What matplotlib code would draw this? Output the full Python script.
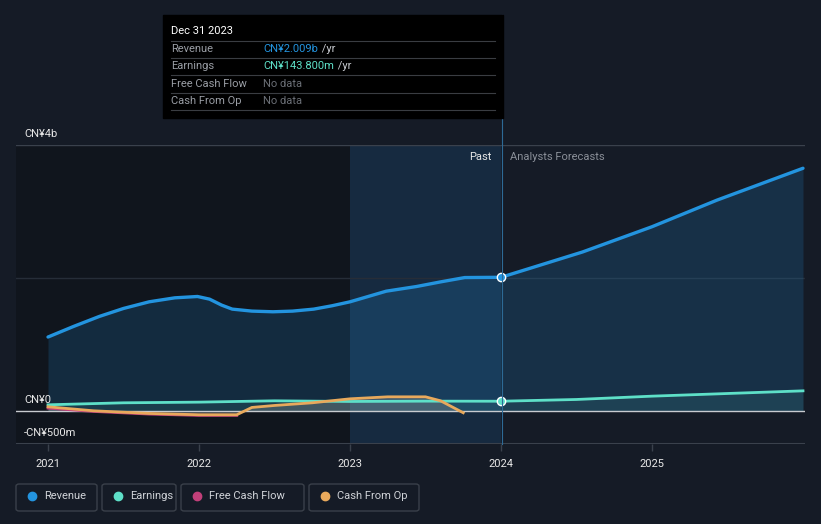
import matplotlib.pyplot as plt
from matplotlib.patches import Rectangle, FancyBboxPatch
from matplotlib.lines import Line2D

plt.rcParams['font.family'] = ['Roboto', 'DejaVu Sans']

# data (CN¥ billions, decimal years)
rev_x = [2021.0, 2021.17, 2021.34, 2021.5, 2021.67, 2021.84, 2021.99, 2022.07, 2022.15, 2022.22,
         2022.35, 2022.49, 2022.62, 2022.76, 2022.88, 2023.0, 2023.12, 2023.24, 2023.44, 2023.6,
         2023.76, 2024.0, 2024.2, 2024.54, 2025.0, 2025.43, 2026.0]
rev_y = [1.11, 1.27, 1.42, 1.54, 1.64, 1.70, 1.72, 1.68, 1.59, 1.53,
         1.50, 1.49, 1.50, 1.53, 1.58, 1.64, 1.72, 1.80, 1.87, 1.94,
         2.005, 2.009, 2.15, 2.39, 2.77, 3.17, 3.65]

earn_x = [2021.0, 2021.5, 2022.0, 2022.5, 2023.0, 2023.5, 2024.0, 2024.5, 2025.0, 2025.5, 2026.0]
earn_y = [0.09, 0.12, 0.13, 0.15, 0.14, 0.145, 0.1438, 0.17, 0.22, 0.26, 0.30]

cfo_x = [2021.0, 2021.3, 2021.67, 2022.0, 2022.25, 2022.35, 2022.5, 2022.75, 2023.0, 2023.25, 2023.5, 2023.6, 2023.75]
cfo_y = [0.06, 0.0, -0.04, -0.06, -0.06, 0.05, 0.08, 0.12, 0.18, 0.21, 0.21, 0.15, -0.03]

fcf_x = [2021.0, 2021.3, 2021.67, 2022.0, 2022.25]
fcf_y = [0.04, -0.01, -0.05, -0.07, -0.07]

year_ticks = [2021, 2022, 2023, 2024, 2025]
past_start, past_end = 2023.0, 2024.0

BG = '#151b26'
REV = '#2394df'
EARN = '#5ee0c8'
FCF = '#c2407a'
CFO = '#e8a95c'

W, H = 821, 524
fig = plt.figure(figsize=(8.21, 5.24), dpi=100, facecolor=BG)
ax = fig.add_axes([16 / W, (H - 444) / H, 789 / W, 299 / H])
ax.set_facecolor(BG)
x0, x1 = 2021 - 32 / 151, 2021 + 757 / 151
ax.set_xlim(x0, x1)
ax.set_ylim(-0.5, 4)

# shaded regions
ax.axvspan(x0, past_start, color='#0c1016', alpha=0.5, lw=0, zorder=0)
ax.axvspan(past_start, past_end, color='#17395a', alpha=0.5, lw=0, zorder=0)

# grid lines
ax.axhline(4, color='#3a414c', lw=1, zorder=1)
ax.axhline(2, color='#262d38', lw=1, zorder=1)
ax.axhline(-0.5, color='#3a414c', lw=1.5, zorder=1)

# series
ax.fill_between(rev_x, rev_y, 0, color=REV, alpha=0.18, lw=0, zorder=2)
ax.plot(rev_x, rev_y, color=REV, lw=2.4, zorder=5, solid_capstyle='round', solid_joinstyle='round')
ax.fill_between(earn_x, earn_y, 0, color=EARN, alpha=0.1, lw=0, zorder=2)
ax.fill_between(cfo_x, cfo_y, 0, color='#8a8a8a', alpha=0.35, lw=0, zorder=2)
ax.plot(fcf_x, fcf_y, color=FCF, lw=2, zorder=4)
ax.plot(earn_x, earn_y, color=EARN, lw=2, zorder=4)
ax.plot(cfo_x, cfo_y, color=CFO, lw=2, zorder=4, solid_joinstyle='round')
ax.axhline(0, color='#c8cbd0', lw=1, zorder=3)

ax.plot([past_end], [rev_y[rev_x.index(past_end)]], 'o', ms=6, color=REV, mec='white', mew=1, zorder=6)
ax.plot([past_end], [earn_y[earn_x.index(past_end)]], 'o', ms=6, color=EARN, mec='white', mew=1, zorder=6)

# vertical marker line up to tooltip
fig.add_artist(Line2D([502 / W, 502 / W], [(H - 444) / H, (H - 15) / H], color='#2d6a96', lw=0.8, zorder=3))

for s in ax.spines.values():
    s.set_visible(False)
ax.set_yticks([])
ax.set_xticks(year_ticks)
ax.set_xticklabels([str(y) for y in year_ticks])
ax.tick_params(axis='x', colors='#3a414c', labelcolor='#e8e8e8', length=5, width=1, labelsize=8, pad=6)

# y labels
for val, txt in [(4, 'CN¥4b'), (0, 'CN¥0'), (-0.5, '-CN¥500m')]:
    ax.annotate(txt, xy=(0, val), xycoords=('axes fraction', 'data'), xytext=(5.8, 4.5),
                textcoords='offset points', color='#e8e8e8', fontsize=8, va='bottom')

ax.text(past_end - 0.06, 3.82, 'Past', color='#e8e8e8', fontsize=8, ha='right', va='center')
ax.text(past_end + 0.06, 3.82, 'Analysts Forecasts', color='#8a8f98', fontsize=8, ha='left', va='center')

# tooltip
fig.add_artist(Rectangle((163 / W, (H - 118) / H), 340 / W, 103 / H, color='black', zorder=10))
fig.text(171 / W, (H - 31) / H, 'Dec 31 2023', color='white', fontsize=8, va='center', zorder=11)
rows = [('Revenue', 'CN¥2.009b', REV, ' /yr'), ('Earnings', 'CN¥143.800m', EARN, ' /yr'),
        ('Free Cash Flow', 'No data', '#6b6f76', ''), ('Cash From Op', 'No data', '#6b6f76', '')]
renderer = fig.canvas.get_renderer()
for i, (lab, val, col, suf) in enumerate(rows):
    yy = (H - (49 + i * 17.4)) / H
    fig.add_artist(Line2D([171 / W, 495 / W], [yy + 8.5 / H, yy + 8.5 / H], color='#3a3d42', lw=0.8, zorder=11))
    fig.text(171 / W, yy, lab, color='#9a9ea5', fontsize=8, va='center', zorder=11)
    t = fig.text(263 / W, yy, val, color=col, fontsize=8, va='center', zorder=11)
    if suf:
        bb = t.get_window_extent(renderer)
        fig.text((bb.x1 + 1) / W, yy, suf, color='#c8cbd0', fontsize=8, va='center', zorder=11)
fig.add_artist(Line2D([171 / W, 495 / W], [(H - 110) / H, (H - 110) / H], color='#3a3d42', lw=0.8, zorder=11))

# legend
legend = [('Revenue', REV, 16, 81), ('Earnings', EARN, 102, 74),
          ('Free Cash Flow', FCF, 181, 123), ('Cash From Op', CFO, 309, 110)]
for lab, col, lx, lw_ in legend:
    fig.add_artist(FancyBboxPatch((lx / W, (H - 511) / H), lw_ / W, 27 / H,
                                  boxstyle='round,pad=0,rounding_size=0.004',
                                  fc=BG, ec='#3a404a', lw=1))
    fig.add_artist(Line2D([(lx + 16) / W], [(H - 496) / H], marker='o', ms=6, color=col, lw=0))
    fig.text((lx + 28) / W, (H - 496) / H, lab, color='#d0d3d8', fontsize=8, va='center')

fig.savefig('out.png', dpi=100, facecolor=BG)
